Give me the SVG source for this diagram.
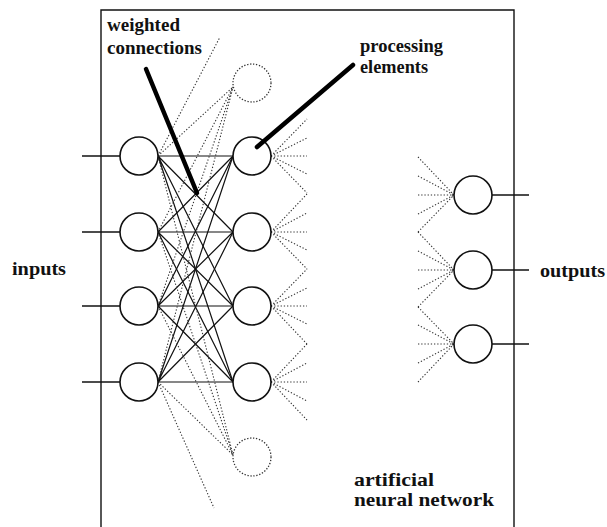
<svg xmlns="http://www.w3.org/2000/svg" width="607" height="527" viewBox="0 0 607 527">
  <style>
    .node { fill: #fff; stroke: #111; stroke-width: 1.6; }
    .ghost { fill: none; stroke: #333; stroke-width: 1.3; stroke-dasharray: 1.3 1.7; }
    .w { stroke: #111; stroke-width: 1.2; fill: none; }
    .d { stroke: #333; stroke-width: 1.1; stroke-dasharray: 1.3 1.9; fill: none; }
    .io { stroke: #111; stroke-width: 1.4; }
    .ptr { stroke: #000; stroke-width: 4.5; stroke-linecap: round; }
  </style>
  <rect width="607" height="527" fill="#fff"/>

  <!-- network boundary (open at the bottom) -->
  <path d="M101,530 V10 H514 V530" fill="none" stroke="#111" stroke-width="1.4"/>

  <g id="connectors">
    <!-- input / output leads -->
    <g class="io">
      <line x1="82" y1="156" x2="120" y2="156"/>
      <line x1="82" y1="232" x2="120" y2="232"/>
      <line x1="82" y1="306" x2="120" y2="306"/>
      <line x1="82" y1="382" x2="120" y2="382"/>
      <line x1="492" y1="195" x2="529" y2="195"/>
      <line x1="492" y1="270" x2="529" y2="270"/>
      <line x1="492" y1="344" x2="529" y2="344"/>
    </g>
    <!-- weighted connections, input layer to hidden layer -->
    <g class="w">
      <path d="M158,156 L233,156 M158,156 L233,232 M158,156 L233,306 M158,156 L233,382"/>
      <path d="M158,232 L233,156 M158,232 L233,232 M158,232 L233,306 M158,232 L233,382"/>
      <path d="M158,306 L233,156 M158,306 L233,232 M158,306 L233,306 M158,306 L233,382"/>
      <path d="M158,382 L233,156 M158,382 L233,232 M158,382 L233,306 M158,382 L233,382"/>
    </g>
    <!-- connections to further hidden units -->
    <g class="d">
      <path d="M158,156 L233,87 M158,232 L233,87 M158,306 L233,87 M158,382 L233,87"/>
      <path d="M158,156 L233,455 M158,232 L233,455 M158,306 L233,455 M158,382 L233,455"/>
      <path d="M158,156 L220,37 M158,382 L214,508"/>
    </g>
    <!-- hidden layer fan-out -->
    <g class="d">
      <path d="M271,156 L307,119 M271,156 L307,138 M271,156 L307,156 M271,156 L307,174 M271,156 L307,193"/>
      <path d="M271,232 L307,194 M271,232 L307,213 M271,232 L307,232 M271,232 L307,250 M271,232 L307,269"/>
      <path d="M271,306 L307,269 M271,306 L307,288 M271,306 L307,306 M271,306 L307,324 M271,306 L307,344"/>
      <path d="M271,382 L307,344 M271,382 L307,363 M271,382 L307,382 M271,382 L307,401 M271,382 L307,420"/>
    </g>
    <!-- fan-in to output layer -->
    <g class="d">
      <path d="M418,157 L454,195 M418,176 L454,195 M418,195 L454,195 M418,214 L454,195 M418,232 L454,195"/>
      <path d="M418,232 L454,270 M418,251 L454,270 M418,270 L454,270 M418,289 L454,270 M418,307 L454,270"/>
      <path d="M418,307 L454,344 M418,325 L454,344 M418,344 L454,344 M418,363 L454,344 M418,382 L454,344"/>
    </g>
  </g>

  <!-- input layer -->
  <g id="in1"><circle class="node" cx="139" cy="156" r="19"/></g>
  <g id="in2"><circle class="node" cx="139" cy="232" r="19"/></g>
  <g id="in3"><circle class="node" cx="139" cy="306" r="19"/></g>
  <g id="in4"><circle class="node" cx="139" cy="382" r="19"/></g>

  <!-- hidden layer -->
  <g id="h0"><circle class="ghost" cx="252" cy="83" r="19"/></g>
  <g id="h1"><circle class="node" cx="252" cy="156" r="19"/></g>
  <g id="h2"><circle class="node" cx="252" cy="232" r="19"/></g>
  <g id="h3"><circle class="node" cx="252" cy="306" r="19"/></g>
  <g id="h4"><circle class="node" cx="252" cy="382" r="19"/></g>
  <g id="h5"><circle class="ghost" cx="252" cy="457" r="19"/></g>

  <!-- output layer -->
  <g id="out1"><circle class="node" cx="473" cy="195" r="19"/></g>
  <g id="out2"><circle class="node" cx="473" cy="270" r="19"/></g>
  <g id="out3"><circle class="node" cx="473" cy="344" r="19"/></g>

  <!-- labels and pointers -->
  <g font-family="'Liberation Serif', 'Times New Roman', Times, 'Noto Serif', 'DejaVu Serif', serif" font-size="19" font-weight="bold" fill="#111">
    <g id="label-weights">
      <text x="107" y="31" textLength="73" lengthAdjust="spacingAndGlyphs">weighted</text>
      <text x="107" y="54" textLength="95" lengthAdjust="spacingAndGlyphs">connections</text>
      <line class="ptr" x1="146" y1="69" x2="197" y2="193"/>
    </g>
    <g id="label-elements">
      <text x="360" y="52" textLength="83" lengthAdjust="spacingAndGlyphs">processing</text>
      <text x="360" y="73" textLength="68" lengthAdjust="spacingAndGlyphs">elements</text>
      <line class="ptr" x1="353" y1="65" x2="257" y2="147"/>
    </g>
    <g id="label-inputs">
      <text x="12" y="275" textLength="54" lengthAdjust="spacingAndGlyphs">inputs</text>
    </g>
    <g id="label-outputs">
      <text x="540" y="277" textLength="65" lengthAdjust="spacingAndGlyphs">outputs</text>
    </g>
    <g id="label-ann">
      <text x="354" y="486" textLength="80" lengthAdjust="spacingAndGlyphs">artificial</text>
      <text x="354" y="506" textLength="140" lengthAdjust="spacingAndGlyphs">neural network</text>
    </g>
  </g>
</svg>
